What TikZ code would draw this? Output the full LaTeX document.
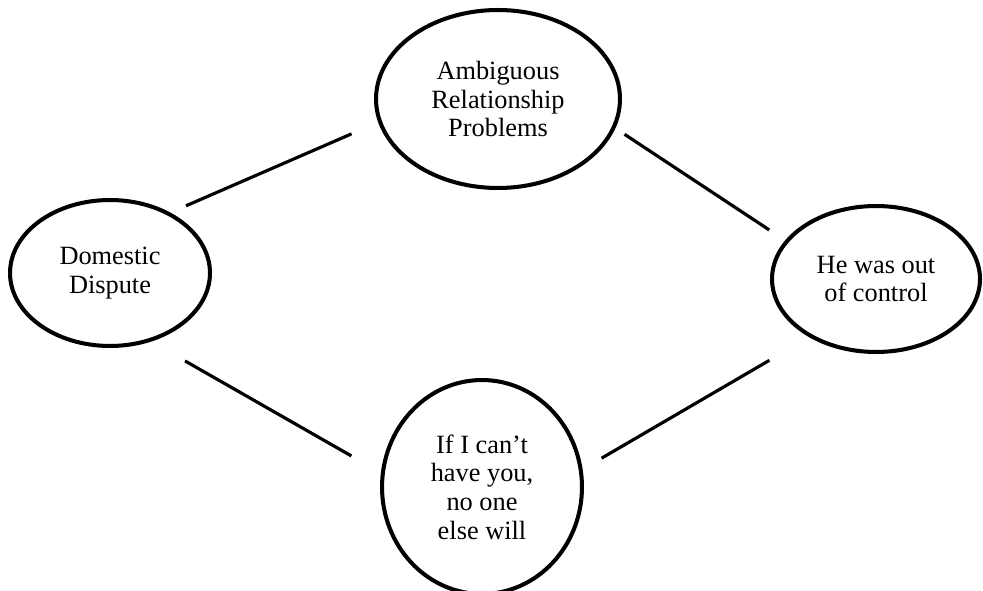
\documentclass[tikz,border=0pt]{standalone}
\usepackage{fontspec}
\setmainfont{Liberation Serif}
\usetikzlibrary{shapes.geometric}

\begin{document}
\begin{tikzpicture}[x=0.02cm, y=-0.02cm,
    bubble/.style={draw, ellipse, line width=2.3pt, inner sep=0pt, align=center,
        font=\fontsize{15}{16.3}\selectfont},
    link/.style={line width=1.8pt}]
    \useasboundingbox (0, 0) rectangle (983, 591);
    \node[bubble, minimum width=4.88cm, minimum height=3.56cm] (amb) at (498, 99) {Ambiguous\\Relationship\\Problems};
    \node[bubble, minimum width=4cm, minimum height=2.92cm] (dom) at (110, 273) {Domestic\\Dispute};
    \node[bubble, minimum width=4.16cm, minimum height=2.92cm] (ctrl) at (876, 279) {He was out\\of control};
    \node[bubble, minimum width=4cm, minimum height=4.28cm] (nohave) at (482, 487) {If I can't\\have you,\\no one\\else will};
    \draw[link, shorten <=0.34cm, shorten >=0.58cm] (dom.45) -- (amb.191);
    \draw[link, shorten <=0.22cm, shorten >=0.38cm] (amb.346.5) -- (ctrl.157.2);
    \draw[link, shorten <=0.78cm, shorten >=0.68cm] (dom.301.2) -- (nohave.172);
    \draw[link, shorten <=0.44cm, shorten >=0.92cm] (nohave.10.8) -- (ctrl.221.3);
\end{tikzpicture}
\end{document}
